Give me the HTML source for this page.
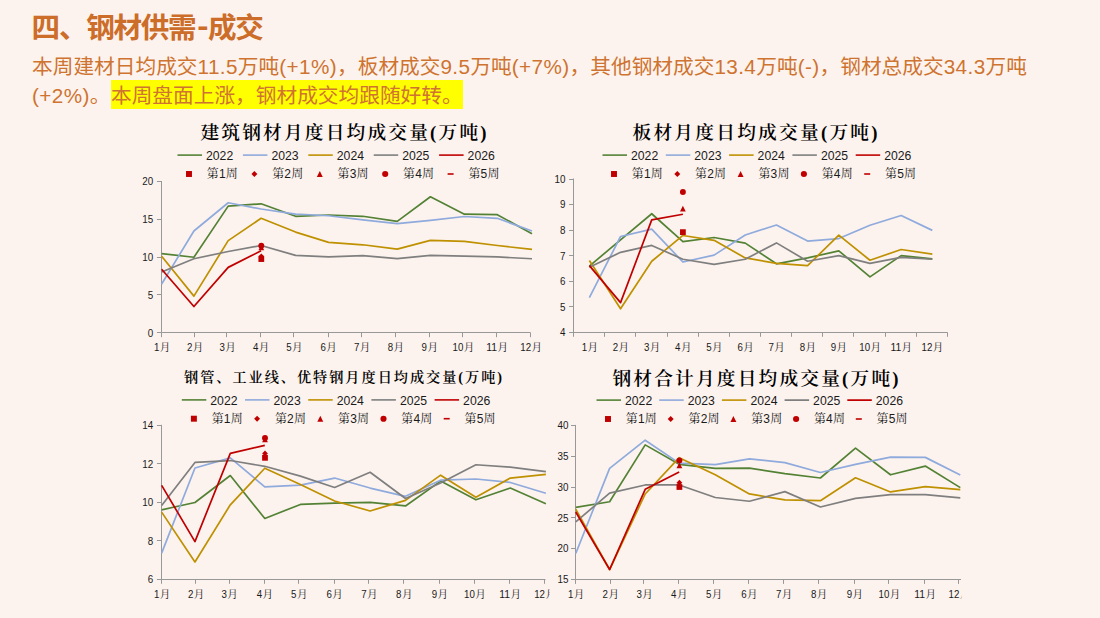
<!DOCTYPE html>
<html lang="zh-CN"><head><meta charset="utf-8"><title>四、钢材供需-成交</title>
<style>
html,body{margin:0;padding:0;}
body{width:1100px;height:618px;overflow:hidden;background:#FCF3EE;position:relative;font-family:'Liberation Sans','Noto Sans CJK SC',sans-serif;}
.h1{position:absolute;left:31.6px;top:7.6px;margin:0;font-size:28.6px;line-height:40px;font-weight:700;color:#CC6D29;white-space:nowrap;letter-spacing:-1.3px;}
.p{position:absolute;left:32px;top:51.75px;margin:0;font-size:20.7px;line-height:29.5px;color:#CF7330;white-space:nowrap;}
.p span.l{display:block;}
.hl{background:#FFFF00;padding:4.25px 0 1.5px 0;margin-left:0.5px;}
.n{letter-spacing:0.4px;}
.hy{display:inline-block;position:relative;top:-1.4px;transform:scaleX(1.18);margin:0 1.6px 0 2.9px;}
</style></head><body>
<h1 class="h1">四、钢材供需<span class="hy">-</span>成交</h1>
<p class="p"><span class="l" id="l1">本周建材日均成交<span class="n">11.5</span>万吨<span class="n">(+1%)</span>，板材成交<span class="n">9.5</span>万吨<span class="n">(+7%)</span>，其他钢材成交<span class="n">13.4</span>万吨<span class="n">(-)</span>，钢材总成交<span class="n">34.3</span>万吨</span><span class="l" id="l2"><span class="n">(+2%)</span>。<span class="hl" id="hl">本周盘面上涨，钢材成交均跟随好转。</span></span></p>
<svg width="1100" height="618" viewBox="0 0 1100 618" style="position:absolute;left:0;top:0">
<g>
<text x="343.5" y="139" font-family="'Liberation Serif','Noto Serif CJK SC',serif" font-weight="600" font-size="18.7" text-anchor="middle" textLength="286" lengthAdjust="spacing" fill="#000">建筑钢材月度日均成交量(万吨)</text>
<line x1="177.5" y1="155.1" x2="202" y2="155.1" stroke="#548235" stroke-width="1.6"/>
<text x="206" y="159.7" font-family="'Liberation Sans','Noto Sans CJK SC',sans-serif" font-size="13" textLength="27.2" lengthAdjust="spacingAndGlyphs" fill="#1a1a1a">2022</text>
<line x1="242.9" y1="155.1" x2="267.4" y2="155.1" stroke="#8FAADC" stroke-width="1.6"/>
<text x="271.4" y="159.7" font-family="'Liberation Sans','Noto Sans CJK SC',sans-serif" font-size="13" textLength="27.2" lengthAdjust="spacingAndGlyphs" fill="#1a1a1a">2023</text>
<line x1="308.3" y1="155.1" x2="332.8" y2="155.1" stroke="#BF9000" stroke-width="1.6"/>
<text x="336.8" y="159.7" font-family="'Liberation Sans','Noto Sans CJK SC',sans-serif" font-size="13" textLength="27.2" lengthAdjust="spacingAndGlyphs" fill="#1a1a1a">2024</text>
<line x1="373.7" y1="155.1" x2="398.2" y2="155.1" stroke="#7F7F7F" stroke-width="1.6"/>
<text x="402.2" y="159.7" font-family="'Liberation Sans','Noto Sans CJK SC',sans-serif" font-size="13" textLength="27.2" lengthAdjust="spacingAndGlyphs" fill="#1a1a1a">2025</text>
<line x1="439.1" y1="155.1" x2="463.6" y2="155.1" stroke="#C00000" stroke-width="1.6"/>
<text x="467.6" y="159.7" font-family="'Liberation Sans','Noto Sans CJK SC',sans-serif" font-size="13" textLength="27.2" lengthAdjust="spacingAndGlyphs" fill="#1a1a1a">2026</text>
<rect x="186.02" y="171.02" width="5.95" height="5.95" fill="#C00000"/>
<text x="206.8" y="178.3" font-family="'Liberation Sans','Noto Serif CJK SC',serif" font-size="12" textLength="31" lengthAdjust="spacing" fill="#1a1a1a">第1周</text>
<path d="M254.4 171.02 L257.38 174 L254.4 176.98 L251.42 174Z" fill="#C00000"/>
<text x="272.2" y="178.3" font-family="'Liberation Sans','Noto Serif CJK SC',serif" font-size="12" textLength="31" lengthAdjust="spacing" fill="#1a1a1a">第2周</text>
<path d="M319.8 171.02 L322.78 176.98 L316.82 176.98Z" fill="#C00000"/>
<text x="337.6" y="178.3" font-family="'Liberation Sans','Noto Serif CJK SC',serif" font-size="12" textLength="31" lengthAdjust="spacing" fill="#1a1a1a">第3周</text>
<circle cx="385.2" cy="174" r="3.07" fill="#C00000"/>
<text x="403" y="178.3" font-family="'Liberation Sans','Noto Serif CJK SC',serif" font-size="12" textLength="31" lengthAdjust="spacing" fill="#1a1a1a">第4周</text>
<rect x="447.6" y="173.2" width="6" height="1.6" fill="#C00000"/>
<text x="468.4" y="178.3" font-family="'Liberation Sans','Noto Serif CJK SC',serif" font-size="12" textLength="31" lengthAdjust="spacing" fill="#1a1a1a">第5周</text>
<path d="M161.5 181 V332.5 H530.5" fill="none" stroke="#989898" stroke-width="1"/>
<line x1="156.95" y1="332.5" x2="161.45" y2="332.5" stroke="#989898" stroke-width="1"/>
<text x="153.25" y="336.6" font-family="'Liberation Sans','Noto Sans CJK SC',sans-serif" font-size="11.3" text-anchor="end" fill="#1a1a1a" transform="translate(153.25 0) scale(0.87 1) translate(-153.25 0)">0</text>
<line x1="156.95" y1="294.5" x2="161.45" y2="294.5" stroke="#989898" stroke-width="1"/>
<text x="153.25" y="298.8" font-family="'Liberation Sans','Noto Sans CJK SC',sans-serif" font-size="11.3" text-anchor="end" fill="#1a1a1a" transform="translate(153.25 0) scale(0.87 1) translate(-153.25 0)">5</text>
<line x1="156.95" y1="257.5" x2="161.45" y2="257.5" stroke="#989898" stroke-width="1"/>
<text x="153.25" y="261" font-family="'Liberation Sans','Noto Sans CJK SC',sans-serif" font-size="11.3" text-anchor="end" fill="#1a1a1a" transform="translate(153.25 0) scale(0.87 1) translate(-153.25 0)">10</text>
<line x1="156.95" y1="219.5" x2="161.45" y2="219.5" stroke="#989898" stroke-width="1"/>
<text x="153.25" y="223.2" font-family="'Liberation Sans','Noto Sans CJK SC',sans-serif" font-size="11.3" text-anchor="end" fill="#1a1a1a" transform="translate(153.25 0) scale(0.87 1) translate(-153.25 0)">15</text>
<line x1="156.95" y1="181.5" x2="161.45" y2="181.5" stroke="#989898" stroke-width="1"/>
<text x="153.25" y="185.4" font-family="'Liberation Sans','Noto Sans CJK SC',sans-serif" font-size="11.3" text-anchor="end" fill="#1a1a1a" transform="translate(153.25 0) scale(0.87 1) translate(-153.25 0)">20</text>
<line x1="161.5" y1="332.7" x2="161.5" y2="337.2" stroke="#989898" stroke-width="1"/>
<line x1="194.5" y1="332.7" x2="194.5" y2="337.2" stroke="#989898" stroke-width="1"/>
<line x1="226.5" y1="332.7" x2="226.5" y2="337.2" stroke="#989898" stroke-width="1"/>
<line x1="260.5" y1="332.7" x2="260.5" y2="337.2" stroke="#989898" stroke-width="1"/>
<line x1="293.5" y1="332.7" x2="293.5" y2="337.2" stroke="#989898" stroke-width="1"/>
<line x1="328.5" y1="332.7" x2="328.5" y2="337.2" stroke="#989898" stroke-width="1"/>
<line x1="361.5" y1="332.7" x2="361.5" y2="337.2" stroke="#989898" stroke-width="1"/>
<line x1="395.5" y1="332.7" x2="395.5" y2="337.2" stroke="#989898" stroke-width="1"/>
<line x1="429.5" y1="332.7" x2="429.5" y2="337.2" stroke="#989898" stroke-width="1"/>
<line x1="462.5" y1="332.7" x2="462.5" y2="337.2" stroke="#989898" stroke-width="1"/>
<line x1="496.5" y1="332.7" x2="496.5" y2="337.2" stroke="#989898" stroke-width="1"/>
<line x1="530.5" y1="332.7" x2="530.5" y2="337.2" stroke="#989898" stroke-width="1"/>
<text x="153.95" y="351.2" fill="#1a1a1a"><tspan font-family="'Liberation Sans','Noto Sans CJK SC',sans-serif" font-size="11.4" textLength="5.4" lengthAdjust="spacingAndGlyphs">1</tspan><tspan x="159.75" font-family="'Liberation Serif','Noto Serif CJK SC',serif" font-size="10.6">月</tspan></text>
<text x="186.9" y="351.2" fill="#1a1a1a"><tspan font-family="'Liberation Sans','Noto Sans CJK SC',sans-serif" font-size="11.4" textLength="5.4" lengthAdjust="spacingAndGlyphs">2</tspan><tspan x="192.7" font-family="'Liberation Serif','Noto Serif CJK SC',serif" font-size="10.6">月</tspan></text>
<text x="219.4" y="351.2" fill="#1a1a1a"><tspan font-family="'Liberation Sans','Noto Sans CJK SC',sans-serif" font-size="11.4" textLength="5.4" lengthAdjust="spacingAndGlyphs">3</tspan><tspan x="225.2" font-family="'Liberation Serif','Noto Serif CJK SC',serif" font-size="10.6">月</tspan></text>
<text x="253" y="351.2" fill="#1a1a1a"><tspan font-family="'Liberation Sans','Noto Sans CJK SC',sans-serif" font-size="11.4" textLength="5.4" lengthAdjust="spacingAndGlyphs">4</tspan><tspan x="258.8" font-family="'Liberation Serif','Noto Serif CJK SC',serif" font-size="10.6">月</tspan></text>
<text x="286.3" y="351.2" fill="#1a1a1a"><tspan font-family="'Liberation Sans','Noto Sans CJK SC',sans-serif" font-size="11.4" textLength="5.4" lengthAdjust="spacingAndGlyphs">5</tspan><tspan x="292.1" font-family="'Liberation Serif','Noto Serif CJK SC',serif" font-size="10.6">月</tspan></text>
<text x="320.5" y="351.2" fill="#1a1a1a"><tspan font-family="'Liberation Sans','Noto Sans CJK SC',sans-serif" font-size="11.4" textLength="5.4" lengthAdjust="spacingAndGlyphs">6</tspan><tspan x="326.3" font-family="'Liberation Serif','Noto Serif CJK SC',serif" font-size="10.6">月</tspan></text>
<text x="353.95" y="351.2" fill="#1a1a1a"><tspan font-family="'Liberation Sans','Noto Sans CJK SC',sans-serif" font-size="11.4" textLength="5.4" lengthAdjust="spacingAndGlyphs">7</tspan><tspan x="359.75" font-family="'Liberation Serif','Noto Serif CJK SC',serif" font-size="10.6">月</tspan></text>
<text x="387.8" y="351.2" fill="#1a1a1a"><tspan font-family="'Liberation Sans','Noto Sans CJK SC',sans-serif" font-size="11.4" textLength="5.4" lengthAdjust="spacingAndGlyphs">8</tspan><tspan x="393.6" font-family="'Liberation Serif','Noto Serif CJK SC',serif" font-size="10.6">月</tspan></text>
<text x="421.6" y="351.2" fill="#1a1a1a"><tspan font-family="'Liberation Sans','Noto Sans CJK SC',sans-serif" font-size="11.4" textLength="5.4" lengthAdjust="spacingAndGlyphs">9</tspan><tspan x="427.4" font-family="'Liberation Serif','Noto Serif CJK SC',serif" font-size="10.6">月</tspan></text>
<text x="452.5" y="351.2" fill="#1a1a1a"><tspan font-family="'Liberation Sans','Noto Sans CJK SC',sans-serif" font-size="11.4" textLength="10.8" lengthAdjust="spacingAndGlyphs">10</tspan><tspan x="463.7" font-family="'Liberation Serif','Noto Serif CJK SC',serif" font-size="10.6">月</tspan></text>
<text x="486.2" y="351.2" fill="#1a1a1a"><tspan font-family="'Liberation Sans','Noto Sans CJK SC',sans-serif" font-size="11.4" textLength="10.8" lengthAdjust="spacingAndGlyphs">11</tspan><tspan x="497.4" font-family="'Liberation Serif','Noto Serif CJK SC',serif" font-size="10.6">月</tspan></text>
<text x="520.3" y="351.2" fill="#1a1a1a"><tspan font-family="'Liberation Sans','Noto Sans CJK SC',sans-serif" font-size="11.4" textLength="10.8" lengthAdjust="spacingAndGlyphs">12</tspan><tspan x="531.5" font-family="'Liberation Serif','Noto Serif CJK SC',serif" font-size="10.6">月</tspan></text>
<polyline points="161.65,253.62 193.9,257.25 228.2,206.15 261.1,203.8 295.6,216.28 328.6,214.99 362.85,216.28 397.2,221.42 430.4,196.77 464.4,214.16 497.3,214.69 532,233.66" fill="none" stroke="#548235" stroke-width="1.7" stroke-linejoin="round" stroke-linecap="butt"/>
<polyline points="161.65,283.94 193.9,231.02 228.2,202.74 261.1,209.02 295.6,214.16 328.6,215.75 362.85,219.9 397.2,223.53 430.4,220.43 464.4,216.5 497.3,218.32 532,231.02" fill="none" stroke="#8FAADC" stroke-width="1.7" stroke-linejoin="round" stroke-linecap="butt"/>
<polyline points="161.65,256.19 193.9,296.11 228.2,240.62 261.1,218.32 295.6,232.08 328.6,242.43 362.85,244.78 397.2,249.16 430.4,240.39 464.4,241.38 497.3,245.53 532,249.46" fill="none" stroke="#BF9000" stroke-width="1.7" stroke-linejoin="round" stroke-linecap="butt"/>
<polyline points="161.65,271.99 193.9,258.76 228.2,251.51 261.1,245.53 295.6,255.44 328.6,256.95 362.85,255.66 397.2,258.54 430.4,255.44 464.4,256.19 497.3,256.95 532,258.76" fill="none" stroke="#7F7F7F" stroke-width="1.7" stroke-linejoin="round" stroke-linecap="butt"/>
<polyline points="161.65,269.2 193.9,306.54 228.2,267.38 261.1,250.75" fill="none" stroke="#C00000" stroke-width="1.7" stroke-linejoin="round" stroke-linecap="butt"/>
<rect x="258.42" y="256.19" width="5.76" height="5.76" fill="#C00000"/>
<path d="M261.3 253.46 L264.18 256.34 L261.3 259.22 L258.42 256.34Z" fill="#C00000"/>
<path d="M261.3 244.39 L264.18 250.15 L258.42 250.15Z" fill="#C00000"/>
<circle cx="261.3" cy="245.76" r="2.97" fill="#C00000"/>
</g>
<g>
<text x="755" y="139" font-family="'Liberation Serif','Noto Serif CJK SC',serif" font-weight="600" font-size="18.7" text-anchor="middle" textLength="245" lengthAdjust="spacing" fill="#000">板材月度日均成交量(万吨)</text>
<line x1="602.5" y1="155.1" x2="627" y2="155.1" stroke="#548235" stroke-width="1.6"/>
<text x="631" y="159.7" font-family="'Liberation Sans','Noto Sans CJK SC',sans-serif" font-size="13" textLength="27.2" lengthAdjust="spacingAndGlyphs" fill="#1a1a1a">2022</text>
<line x1="665.8" y1="155.1" x2="690.3" y2="155.1" stroke="#8FAADC" stroke-width="1.6"/>
<text x="694.3" y="159.7" font-family="'Liberation Sans','Noto Sans CJK SC',sans-serif" font-size="13" textLength="27.2" lengthAdjust="spacingAndGlyphs" fill="#1a1a1a">2023</text>
<line x1="729.1" y1="155.1" x2="753.6" y2="155.1" stroke="#BF9000" stroke-width="1.6"/>
<text x="757.6" y="159.7" font-family="'Liberation Sans','Noto Sans CJK SC',sans-serif" font-size="13" textLength="27.2" lengthAdjust="spacingAndGlyphs" fill="#1a1a1a">2024</text>
<line x1="792.4" y1="155.1" x2="816.9" y2="155.1" stroke="#7F7F7F" stroke-width="1.6"/>
<text x="820.9" y="159.7" font-family="'Liberation Sans','Noto Sans CJK SC',sans-serif" font-size="13" textLength="27.2" lengthAdjust="spacingAndGlyphs" fill="#1a1a1a">2025</text>
<line x1="855.7" y1="155.1" x2="880.2" y2="155.1" stroke="#C00000" stroke-width="1.6"/>
<text x="884.2" y="159.7" font-family="'Liberation Sans','Noto Sans CJK SC',sans-serif" font-size="13" textLength="27.2" lengthAdjust="spacingAndGlyphs" fill="#1a1a1a">2026</text>
<rect x="611.02" y="171.02" width="5.95" height="5.95" fill="#C00000"/>
<text x="631.8" y="178.3" font-family="'Liberation Sans','Noto Serif CJK SC',serif" font-size="12" textLength="31" lengthAdjust="spacing" fill="#1a1a1a">第1周</text>
<path d="M677.3 171.02 L680.28 174 L677.3 176.98 L674.32 174Z" fill="#C00000"/>
<text x="695.1" y="178.3" font-family="'Liberation Sans','Noto Serif CJK SC',serif" font-size="12" textLength="31" lengthAdjust="spacing" fill="#1a1a1a">第2周</text>
<path d="M740.6 171.02 L743.58 176.98 L737.62 176.98Z" fill="#C00000"/>
<text x="758.4" y="178.3" font-family="'Liberation Sans','Noto Serif CJK SC',serif" font-size="12" textLength="31" lengthAdjust="spacing" fill="#1a1a1a">第3周</text>
<circle cx="803.9" cy="174" r="3.07" fill="#C00000"/>
<text x="821.7" y="178.3" font-family="'Liberation Sans','Noto Serif CJK SC',serif" font-size="12" textLength="31" lengthAdjust="spacing" fill="#1a1a1a">第4周</text>
<rect x="864.2" y="173.2" width="6" height="1.6" fill="#C00000"/>
<text x="885" y="178.3" font-family="'Liberation Sans','Noto Serif CJK SC',serif" font-size="12" textLength="31" lengthAdjust="spacing" fill="#1a1a1a">第5周</text>
<path d="M573.5 178.5 V332.5 H947.3" fill="none" stroke="#989898" stroke-width="1"/>
<line x1="569.1" y1="332.5" x2="573.6" y2="332.5" stroke="#989898" stroke-width="1"/>
<text x="565.4" y="336.2" font-family="'Liberation Sans','Noto Sans CJK SC',sans-serif" font-size="11.3" text-anchor="end" fill="#1a1a1a" transform="translate(565.4 0) scale(0.87 1) translate(-565.4 0)">4</text>
<line x1="569.1" y1="306.5" x2="573.6" y2="306.5" stroke="#989898" stroke-width="1"/>
<text x="565.4" y="310.65" font-family="'Liberation Sans','Noto Sans CJK SC',sans-serif" font-size="11.3" text-anchor="end" fill="#1a1a1a" transform="translate(565.4 0) scale(0.87 1) translate(-565.4 0)">5</text>
<line x1="569.1" y1="281.5" x2="573.6" y2="281.5" stroke="#989898" stroke-width="1"/>
<text x="565.4" y="285.1" font-family="'Liberation Sans','Noto Sans CJK SC',sans-serif" font-size="11.3" text-anchor="end" fill="#1a1a1a" transform="translate(565.4 0) scale(0.87 1) translate(-565.4 0)">6</text>
<line x1="569.1" y1="255.5" x2="573.6" y2="255.5" stroke="#989898" stroke-width="1"/>
<text x="565.4" y="259.55" font-family="'Liberation Sans','Noto Sans CJK SC',sans-serif" font-size="11.3" text-anchor="end" fill="#1a1a1a" transform="translate(565.4 0) scale(0.87 1) translate(-565.4 0)">7</text>
<line x1="569.1" y1="230.5" x2="573.6" y2="230.5" stroke="#989898" stroke-width="1"/>
<text x="565.4" y="234" font-family="'Liberation Sans','Noto Sans CJK SC',sans-serif" font-size="11.3" text-anchor="end" fill="#1a1a1a" transform="translate(565.4 0) scale(0.87 1) translate(-565.4 0)">8</text>
<line x1="569.1" y1="204.5" x2="573.6" y2="204.5" stroke="#989898" stroke-width="1"/>
<text x="565.4" y="208.45" font-family="'Liberation Sans','Noto Sans CJK SC',sans-serif" font-size="11.3" text-anchor="end" fill="#1a1a1a" transform="translate(565.4 0) scale(0.87 1) translate(-565.4 0)">9</text>
<line x1="569.1" y1="179.5" x2="573.6" y2="179.5" stroke="#989898" stroke-width="1"/>
<text x="565.4" y="182.9" font-family="'Liberation Sans','Noto Sans CJK SC',sans-serif" font-size="11.3" text-anchor="end" fill="#1a1a1a" transform="translate(565.4 0) scale(0.87 1) translate(-565.4 0)">10</text>
<line x1="573.5" y1="332.3" x2="573.5" y2="336.8" stroke="#989898" stroke-width="1"/>
<line x1="604.5" y1="332.3" x2="604.5" y2="336.8" stroke="#989898" stroke-width="1"/>
<line x1="635.5" y1="332.3" x2="635.5" y2="336.8" stroke="#989898" stroke-width="1"/>
<line x1="667.5" y1="332.3" x2="667.5" y2="336.8" stroke="#989898" stroke-width="1"/>
<line x1="698.5" y1="332.3" x2="698.5" y2="336.8" stroke="#989898" stroke-width="1"/>
<line x1="729.5" y1="332.3" x2="729.5" y2="336.8" stroke="#989898" stroke-width="1"/>
<line x1="760.5" y1="332.3" x2="760.5" y2="336.8" stroke="#989898" stroke-width="1"/>
<line x1="791.5" y1="332.3" x2="791.5" y2="336.8" stroke="#989898" stroke-width="1"/>
<line x1="822.5" y1="332.3" x2="822.5" y2="336.8" stroke="#989898" stroke-width="1"/>
<line x1="853.5" y1="332.3" x2="853.5" y2="336.8" stroke="#989898" stroke-width="1"/>
<line x1="885.5" y1="332.3" x2="885.5" y2="336.8" stroke="#989898" stroke-width="1"/>
<line x1="916.5" y1="332.3" x2="916.5" y2="336.8" stroke="#989898" stroke-width="1"/>
<line x1="947.5" y1="332.3" x2="947.5" y2="336.8" stroke="#989898" stroke-width="1"/>
<text x="581.67" y="351.2" fill="#1a1a1a"><tspan font-family="'Liberation Sans','Noto Sans CJK SC',sans-serif" font-size="11.4" textLength="5.4" lengthAdjust="spacingAndGlyphs">1</tspan><tspan x="587.47" font-family="'Liberation Serif','Noto Serif CJK SC',serif" font-size="10.6">月</tspan></text>
<text x="612.81" y="351.2" fill="#1a1a1a"><tspan font-family="'Liberation Sans','Noto Sans CJK SC',sans-serif" font-size="11.4" textLength="5.4" lengthAdjust="spacingAndGlyphs">2</tspan><tspan x="618.61" font-family="'Liberation Serif','Noto Serif CJK SC',serif" font-size="10.6">月</tspan></text>
<text x="643.95" y="351.2" fill="#1a1a1a"><tspan font-family="'Liberation Sans','Noto Sans CJK SC',sans-serif" font-size="11.4" textLength="5.4" lengthAdjust="spacingAndGlyphs">3</tspan><tspan x="649.75" font-family="'Liberation Serif','Noto Serif CJK SC',serif" font-size="10.6">月</tspan></text>
<text x="675.1" y="351.2" fill="#1a1a1a"><tspan font-family="'Liberation Sans','Noto Sans CJK SC',sans-serif" font-size="11.4" textLength="5.4" lengthAdjust="spacingAndGlyphs">4</tspan><tspan x="680.9" font-family="'Liberation Serif','Noto Serif CJK SC',serif" font-size="10.6">月</tspan></text>
<text x="706.24" y="351.2" fill="#1a1a1a"><tspan font-family="'Liberation Sans','Noto Sans CJK SC',sans-serif" font-size="11.4" textLength="5.4" lengthAdjust="spacingAndGlyphs">5</tspan><tspan x="712.04" font-family="'Liberation Serif','Noto Serif CJK SC',serif" font-size="10.6">月</tspan></text>
<text x="737.38" y="351.2" fill="#1a1a1a"><tspan font-family="'Liberation Sans','Noto Sans CJK SC',sans-serif" font-size="11.4" textLength="5.4" lengthAdjust="spacingAndGlyphs">6</tspan><tspan x="743.18" font-family="'Liberation Serif','Noto Serif CJK SC',serif" font-size="10.6">月</tspan></text>
<text x="768.52" y="351.2" fill="#1a1a1a"><tspan font-family="'Liberation Sans','Noto Sans CJK SC',sans-serif" font-size="11.4" textLength="5.4" lengthAdjust="spacingAndGlyphs">7</tspan><tspan x="774.32" font-family="'Liberation Serif','Noto Serif CJK SC',serif" font-size="10.6">月</tspan></text>
<text x="799.66" y="351.2" fill="#1a1a1a"><tspan font-family="'Liberation Sans','Noto Sans CJK SC',sans-serif" font-size="11.4" textLength="5.4" lengthAdjust="spacingAndGlyphs">8</tspan><tspan x="805.46" font-family="'Liberation Serif','Noto Serif CJK SC',serif" font-size="10.6">月</tspan></text>
<text x="830.8" y="351.2" fill="#1a1a1a"><tspan font-family="'Liberation Sans','Noto Sans CJK SC',sans-serif" font-size="11.4" textLength="5.4" lengthAdjust="spacingAndGlyphs">9</tspan><tspan x="836.6" font-family="'Liberation Serif','Noto Serif CJK SC',serif" font-size="10.6">月</tspan></text>
<text x="859.25" y="351.2" fill="#1a1a1a"><tspan font-family="'Liberation Sans','Noto Sans CJK SC',sans-serif" font-size="11.4" textLength="10.8" lengthAdjust="spacingAndGlyphs">10</tspan><tspan x="870.45" font-family="'Liberation Serif','Noto Serif CJK SC',serif" font-size="10.6">月</tspan></text>
<text x="890.39" y="351.2" fill="#1a1a1a"><tspan font-family="'Liberation Sans','Noto Sans CJK SC',sans-serif" font-size="11.4" textLength="10.8" lengthAdjust="spacingAndGlyphs">11</tspan><tspan x="901.59" font-family="'Liberation Serif','Noto Serif CJK SC',serif" font-size="10.6">月</tspan></text>
<text x="921.53" y="351.2" fill="#1a1a1a"><tspan font-family="'Liberation Sans','Noto Sans CJK SC',sans-serif" font-size="11.4" textLength="10.8" lengthAdjust="spacingAndGlyphs">12</tspan><tspan x="932.73" font-family="'Liberation Serif','Noto Serif CJK SC',serif" font-size="10.6">月</tspan></text>
<polyline points="589.37,266.13 620.55,239.81 651.73,213.75 682.9,241.6 714.08,237.51 745.26,243.13 776.44,263.83 807.62,257.95 838.8,250.8 869.97,276.86 901.15,255.65 932.33,258.97" fill="none" stroke="#548235" stroke-width="1.7" stroke-linejoin="round" stroke-linecap="butt"/>
<polyline points="589.37,297.55 620.55,236.49 651.73,229.08 682.9,262.04 714.08,255.14 745.26,234.95 776.44,224.99 807.62,241.09 838.8,238.53 869.97,225.25 901.15,215.54 932.33,230.36" fill="none" stroke="#8FAADC" stroke-width="1.7" stroke-linejoin="round" stroke-linecap="butt"/>
<polyline points="589.37,260.5 620.55,308.79 651.73,261.27 682.9,235.47 714.08,240.32 745.26,257.95 776.44,263.31 807.62,265.61 838.8,235.21 869.97,260.25 901.15,249.52 932.33,254.12" fill="none" stroke="#BF9000" stroke-width="1.7" stroke-linejoin="round" stroke-linecap="butt"/>
<polyline points="589.37,267.15 620.55,252.33 651.73,245.43 682.9,259.23 714.08,264.34 745.26,259.23 776.44,242.88 807.62,261.27 838.8,255.65 869.97,263.31 901.15,257.44 932.33,259.23" fill="none" stroke="#7F7F7F" stroke-width="1.7" stroke-linejoin="round" stroke-linecap="butt"/>
<polyline points="589.37,265.61 620.55,302.66 651.73,219.88 682.9,214.26" fill="none" stroke="#C00000" stroke-width="1.7" stroke-linejoin="round" stroke-linecap="butt"/>
<rect x="680.02" y="229.26" width="5.76" height="5.76" fill="#C00000"/>
<path d="M682.9 205.76 L685.78 211.52 L680.02 211.52Z" fill="#C00000"/>
<circle cx="682.9" cy="192.03" r="2.97" fill="#C00000"/>
</g>
<clipPath id="cp2"><rect x="0" y="0" width="549.8" height="618"/></clipPath>
<g clip-path="url(#cp2)">
<text x="343" y="381.6" font-family="'Liberation Serif','Noto Serif CJK SC',serif" font-weight="600" font-size="14.2" text-anchor="middle" textLength="318" lengthAdjust="spacing" fill="#000">钢管、工业线、优特钢月度日均成交量(万吨)</text>
<line x1="181.8" y1="399.9" x2="206.3" y2="399.9" stroke="#548235" stroke-width="1.6"/>
<text x="210.3" y="404.5" font-family="'Liberation Sans','Noto Sans CJK SC',sans-serif" font-size="13" textLength="27.2" lengthAdjust="spacingAndGlyphs" fill="#1a1a1a">2022</text>
<line x1="245" y1="399.9" x2="269.5" y2="399.9" stroke="#8FAADC" stroke-width="1.6"/>
<text x="273.5" y="404.5" font-family="'Liberation Sans','Noto Sans CJK SC',sans-serif" font-size="13" textLength="27.2" lengthAdjust="spacingAndGlyphs" fill="#1a1a1a">2023</text>
<line x1="308.2" y1="399.9" x2="332.7" y2="399.9" stroke="#BF9000" stroke-width="1.6"/>
<text x="336.7" y="404.5" font-family="'Liberation Sans','Noto Sans CJK SC',sans-serif" font-size="13" textLength="27.2" lengthAdjust="spacingAndGlyphs" fill="#1a1a1a">2024</text>
<line x1="371.4" y1="399.9" x2="395.9" y2="399.9" stroke="#7F7F7F" stroke-width="1.6"/>
<text x="399.9" y="404.5" font-family="'Liberation Sans','Noto Sans CJK SC',sans-serif" font-size="13" textLength="27.2" lengthAdjust="spacingAndGlyphs" fill="#1a1a1a">2025</text>
<line x1="434.6" y1="399.9" x2="459.1" y2="399.9" stroke="#C00000" stroke-width="1.6"/>
<text x="463.1" y="404.5" font-family="'Liberation Sans','Noto Sans CJK SC',sans-serif" font-size="13" textLength="27.2" lengthAdjust="spacingAndGlyphs" fill="#1a1a1a">2026</text>
<rect x="190.92" y="415.72" width="5.95" height="5.95" fill="#C00000"/>
<text x="211.7" y="423" font-family="'Liberation Sans','Noto Serif CJK SC',serif" font-size="12" textLength="31" lengthAdjust="spacing" fill="#1a1a1a">第1周</text>
<path d="M257.1 415.72 L260.08 418.7 L257.1 421.68 L254.12 418.7Z" fill="#C00000"/>
<text x="274.9" y="423" font-family="'Liberation Sans','Noto Serif CJK SC',serif" font-size="12" textLength="31" lengthAdjust="spacing" fill="#1a1a1a">第2周</text>
<path d="M320.3 415.72 L323.28 421.68 L317.32 421.68Z" fill="#C00000"/>
<text x="338.1" y="423" font-family="'Liberation Sans','Noto Serif CJK SC',serif" font-size="12" textLength="31" lengthAdjust="spacing" fill="#1a1a1a">第3周</text>
<circle cx="383.5" cy="418.7" r="3.07" fill="#C00000"/>
<text x="401.3" y="423" font-family="'Liberation Sans','Noto Serif CJK SC',serif" font-size="12" textLength="31" lengthAdjust="spacing" fill="#1a1a1a">第4周</text>
<rect x="443.7" y="417.9" width="6" height="1.6" fill="#C00000"/>
<text x="464.5" y="423" font-family="'Liberation Sans','Noto Serif CJK SC',serif" font-size="12" textLength="31" lengthAdjust="spacing" fill="#1a1a1a">第5周</text>
<path d="M161.5 424.8 V579.5 H545.5" fill="none" stroke="#989898" stroke-width="1"/>
<line x1="156.95" y1="579.5" x2="161.45" y2="579.5" stroke="#989898" stroke-width="1"/>
<text x="153.25" y="583.2" font-family="'Liberation Sans','Noto Sans CJK SC',sans-serif" font-size="11.3" text-anchor="end" fill="#1a1a1a" transform="translate(153.25 0) scale(0.87 1) translate(-153.25 0)">6</text>
<line x1="156.95" y1="540.5" x2="161.45" y2="540.5" stroke="#989898" stroke-width="1"/>
<text x="153.25" y="544.7" font-family="'Liberation Sans','Noto Sans CJK SC',sans-serif" font-size="11.3" text-anchor="end" fill="#1a1a1a" transform="translate(153.25 0) scale(0.87 1) translate(-153.25 0)">8</text>
<line x1="156.95" y1="502.5" x2="161.45" y2="502.5" stroke="#989898" stroke-width="1"/>
<text x="153.25" y="506.2" font-family="'Liberation Sans','Noto Sans CJK SC',sans-serif" font-size="11.3" text-anchor="end" fill="#1a1a1a" transform="translate(153.25 0) scale(0.87 1) translate(-153.25 0)">10</text>
<line x1="156.95" y1="463.5" x2="161.45" y2="463.5" stroke="#989898" stroke-width="1"/>
<text x="153.25" y="467.7" font-family="'Liberation Sans','Noto Sans CJK SC',sans-serif" font-size="11.3" text-anchor="end" fill="#1a1a1a" transform="translate(153.25 0) scale(0.87 1) translate(-153.25 0)">12</text>
<line x1="156.95" y1="425.5" x2="161.45" y2="425.5" stroke="#989898" stroke-width="1"/>
<text x="153.25" y="429.2" font-family="'Liberation Sans','Noto Sans CJK SC',sans-serif" font-size="11.3" text-anchor="end" fill="#1a1a1a" transform="translate(153.25 0) scale(0.87 1) translate(-153.25 0)">14</text>
<line x1="161.5" y1="579.3" x2="161.5" y2="583.8" stroke="#989898" stroke-width="1"/>
<line x1="195.5" y1="579.3" x2="195.5" y2="583.8" stroke="#989898" stroke-width="1"/>
<line x1="229.5" y1="579.3" x2="229.5" y2="583.8" stroke="#989898" stroke-width="1"/>
<line x1="264.5" y1="579.3" x2="264.5" y2="583.8" stroke="#989898" stroke-width="1"/>
<line x1="298.5" y1="579.3" x2="298.5" y2="583.8" stroke="#989898" stroke-width="1"/>
<line x1="334.5" y1="579.3" x2="334.5" y2="583.8" stroke="#989898" stroke-width="1"/>
<line x1="368.5" y1="579.3" x2="368.5" y2="583.8" stroke="#989898" stroke-width="1"/>
<line x1="403.5" y1="579.3" x2="403.5" y2="583.8" stroke="#989898" stroke-width="1"/>
<line x1="439.5" y1="579.3" x2="439.5" y2="583.8" stroke="#989898" stroke-width="1"/>
<line x1="474.5" y1="579.3" x2="474.5" y2="583.8" stroke="#989898" stroke-width="1"/>
<line x1="509.5" y1="579.3" x2="509.5" y2="583.8" stroke="#989898" stroke-width="1"/>
<line x1="544.5" y1="579.3" x2="544.5" y2="583.8" stroke="#989898" stroke-width="1"/>
<text x="153.95" y="598.2" fill="#1a1a1a"><tspan font-family="'Liberation Sans','Noto Sans CJK SC',sans-serif" font-size="11.4" textLength="5.4" lengthAdjust="spacingAndGlyphs">1</tspan><tspan x="159.75" font-family="'Liberation Serif','Noto Serif CJK SC',serif" font-size="10.6">月</tspan></text>
<text x="187.95" y="598.2" fill="#1a1a1a"><tspan font-family="'Liberation Sans','Noto Sans CJK SC',sans-serif" font-size="11.4" textLength="5.4" lengthAdjust="spacingAndGlyphs">2</tspan><tspan x="193.75" font-family="'Liberation Serif','Noto Serif CJK SC',serif" font-size="10.6">月</tspan></text>
<text x="221.5" y="598.2" fill="#1a1a1a"><tspan font-family="'Liberation Sans','Noto Sans CJK SC',sans-serif" font-size="11.4" textLength="5.4" lengthAdjust="spacingAndGlyphs">3</tspan><tspan x="227.3" font-family="'Liberation Serif','Noto Serif CJK SC',serif" font-size="10.6">月</tspan></text>
<text x="256.7" y="598.2" fill="#1a1a1a"><tspan font-family="'Liberation Sans','Noto Sans CJK SC',sans-serif" font-size="11.4" textLength="5.4" lengthAdjust="spacingAndGlyphs">4</tspan><tspan x="262.5" font-family="'Liberation Serif','Noto Serif CJK SC',serif" font-size="10.6">月</tspan></text>
<text x="291.1" y="598.2" fill="#1a1a1a"><tspan font-family="'Liberation Sans','Noto Sans CJK SC',sans-serif" font-size="11.4" textLength="5.4" lengthAdjust="spacingAndGlyphs">5</tspan><tspan x="296.9" font-family="'Liberation Serif','Noto Serif CJK SC',serif" font-size="10.6">月</tspan></text>
<text x="326.5" y="598.2" fill="#1a1a1a"><tspan font-family="'Liberation Sans','Noto Sans CJK SC',sans-serif" font-size="11.4" textLength="5.4" lengthAdjust="spacingAndGlyphs">6</tspan><tspan x="332.3" font-family="'Liberation Serif','Noto Serif CJK SC',serif" font-size="10.6">月</tspan></text>
<text x="361.2" y="598.2" fill="#1a1a1a"><tspan font-family="'Liberation Sans','Noto Sans CJK SC',sans-serif" font-size="11.4" textLength="5.4" lengthAdjust="spacingAndGlyphs">7</tspan><tspan x="367" font-family="'Liberation Serif','Noto Serif CJK SC',serif" font-size="10.6">月</tspan></text>
<text x="396.1" y="598.2" fill="#1a1a1a"><tspan font-family="'Liberation Sans','Noto Sans CJK SC',sans-serif" font-size="11.4" textLength="5.4" lengthAdjust="spacingAndGlyphs">8</tspan><tspan x="401.9" font-family="'Liberation Serif','Noto Serif CJK SC',serif" font-size="10.6">月</tspan></text>
<text x="431.8" y="598.2" fill="#1a1a1a"><tspan font-family="'Liberation Sans','Noto Sans CJK SC',sans-serif" font-size="11.4" textLength="5.4" lengthAdjust="spacingAndGlyphs">9</tspan><tspan x="437.6" font-family="'Liberation Serif','Noto Serif CJK SC',serif" font-size="10.6">月</tspan></text>
<text x="464" y="598.2" fill="#1a1a1a"><tspan font-family="'Liberation Sans','Noto Sans CJK SC',sans-serif" font-size="11.4" textLength="10.8" lengthAdjust="spacingAndGlyphs">10</tspan><tspan x="475.2" font-family="'Liberation Serif','Noto Serif CJK SC',serif" font-size="10.6">月</tspan></text>
<text x="499.2" y="598.2" fill="#1a1a1a"><tspan font-family="'Liberation Sans','Noto Sans CJK SC',sans-serif" font-size="11.4" textLength="10.8" lengthAdjust="spacingAndGlyphs">11</tspan><tspan x="510.4" font-family="'Liberation Serif','Noto Serif CJK SC',serif" font-size="10.6">月</tspan></text>
<text x="534.2" y="598.2" fill="#1a1a1a"><tspan font-family="'Liberation Sans','Noto Sans CJK SC',sans-serif" font-size="11.4" textLength="10.8" lengthAdjust="spacingAndGlyphs">12</tspan><tspan x="545.4" font-family="'Liberation Serif','Noto Serif CJK SC',serif" font-size="10.6">月</tspan></text>
<polyline points="161.65,509.81 194.95,502.49 230.3,475.54 264.8,518.47 300.4,504.42 334.6,503.07 370.1,502.3 405.5,505.96 440.6,481.12 475.9,499.8 510.3,488.05 545.9,503.84" fill="none" stroke="#548235" stroke-width="1.7" stroke-linejoin="round" stroke-linecap="butt"/>
<polyline points="161.65,553.12 194.95,468.04 230.3,457.83 264.8,486.9 300.4,485.17 334.6,478.05 370.1,488.05 405.5,496.33 440.6,480.16 475.9,479.01 510.3,482.47 545.9,493.25" fill="none" stroke="#8FAADC" stroke-width="1.7" stroke-linejoin="round" stroke-linecap="butt"/>
<polyline points="161.65,512.12 194.95,561.97 230.3,504.8 264.8,468.23 300.4,484.59 334.6,500.95 370.1,510.96 405.5,500.38 440.6,475.16 475.9,497.29 510.3,478.05 545.9,474.39" fill="none" stroke="#BF9000" stroke-width="1.7" stroke-linejoin="round" stroke-linecap="butt"/>
<polyline points="161.65,505.57 194.95,462.45 230.3,460.53 264.8,466.3 300.4,476.12 334.6,487.48 370.1,472.27 405.5,498.45 440.6,483.05 475.9,464.76 510.3,467.07 545.9,471.69" fill="none" stroke="#7F7F7F" stroke-width="1.7" stroke-linejoin="round" stroke-linecap="butt"/>
<polyline points="161.65,485.36 194.95,541.57 230.3,453.41 264.8,445.32" fill="none" stroke="#C00000" stroke-width="1.7" stroke-linejoin="round" stroke-linecap="butt"/>
<rect x="262.12" y="454.95" width="5.76" height="5.76" fill="#C00000"/>
<path d="M265 450.53 L267.88 453.41 L265 456.29 L262.12 453.41Z" fill="#C00000"/>
<path d="M265 436.47 L267.88 442.23 L262.12 442.23Z" fill="#C00000"/>
<circle cx="265" cy="438" r="2.97" fill="#C00000"/>
</g>
<clipPath id="cp3"><rect x="0" y="0" width="961.6" height="618"/></clipPath>
<g clip-path="url(#cp3)">
<text x="755.5" y="385" font-family="'Liberation Serif','Noto Serif CJK SC',serif" font-weight="600" font-size="18.7" text-anchor="middle" textLength="286" lengthAdjust="spacing" fill="#000">钢材合计月度日均成交量(万吨)</text>
<line x1="596.5" y1="400.1" x2="621" y2="400.1" stroke="#548235" stroke-width="1.6"/>
<text x="625" y="404.7" font-family="'Liberation Sans','Noto Sans CJK SC',sans-serif" font-size="13" textLength="27.2" lengthAdjust="spacingAndGlyphs" fill="#1a1a1a">2022</text>
<line x1="659.2" y1="400.1" x2="683.7" y2="400.1" stroke="#8FAADC" stroke-width="1.6"/>
<text x="687.7" y="404.7" font-family="'Liberation Sans','Noto Sans CJK SC',sans-serif" font-size="13" textLength="27.2" lengthAdjust="spacingAndGlyphs" fill="#1a1a1a">2023</text>
<line x1="721.9" y1="400.1" x2="746.4" y2="400.1" stroke="#BF9000" stroke-width="1.6"/>
<text x="750.4" y="404.7" font-family="'Liberation Sans','Noto Sans CJK SC',sans-serif" font-size="13" textLength="27.2" lengthAdjust="spacingAndGlyphs" fill="#1a1a1a">2024</text>
<line x1="784.6" y1="400.1" x2="809.1" y2="400.1" stroke="#7F7F7F" stroke-width="1.6"/>
<text x="813.1" y="404.7" font-family="'Liberation Sans','Noto Sans CJK SC',sans-serif" font-size="13" textLength="27.2" lengthAdjust="spacingAndGlyphs" fill="#1a1a1a">2025</text>
<line x1="847.3" y1="400.1" x2="871.8" y2="400.1" stroke="#C00000" stroke-width="1.6"/>
<text x="875.8" y="404.7" font-family="'Liberation Sans','Noto Sans CJK SC',sans-serif" font-size="13" textLength="27.2" lengthAdjust="spacingAndGlyphs" fill="#1a1a1a">2026</text>
<rect x="605.02" y="416.02" width="5.95" height="5.95" fill="#C00000"/>
<text x="625.8" y="423.3" font-family="'Liberation Sans','Noto Serif CJK SC',serif" font-size="12" textLength="31" lengthAdjust="spacing" fill="#1a1a1a">第1周</text>
<path d="M670.7 416.02 L673.68 419 L670.7 421.98 L667.72 419Z" fill="#C00000"/>
<text x="688.5" y="423.3" font-family="'Liberation Sans','Noto Serif CJK SC',serif" font-size="12" textLength="31" lengthAdjust="spacing" fill="#1a1a1a">第2周</text>
<path d="M733.4 416.02 L736.38 421.98 L730.42 421.98Z" fill="#C00000"/>
<text x="751.2" y="423.3" font-family="'Liberation Sans','Noto Serif CJK SC',serif" font-size="12" textLength="31" lengthAdjust="spacing" fill="#1a1a1a">第3周</text>
<circle cx="796.1" cy="419" r="3.07" fill="#C00000"/>
<text x="813.9" y="423.3" font-family="'Liberation Sans','Noto Serif CJK SC',serif" font-size="12" textLength="31" lengthAdjust="spacing" fill="#1a1a1a">第4周</text>
<rect x="855.8" y="418.2" width="6" height="1.6" fill="#C00000"/>
<text x="876.6" y="423.3" font-family="'Liberation Sans','Noto Serif CJK SC',serif" font-size="12" textLength="31" lengthAdjust="spacing" fill="#1a1a1a">第5周</text>
<path d="M575.5 424.9 V579.5 H961" fill="none" stroke="#989898" stroke-width="1"/>
<line x1="571.05" y1="579.5" x2="575.55" y2="579.5" stroke="#989898" stroke-width="1"/>
<text x="568.55" y="583.3" font-family="'Liberation Sans','Noto Sans CJK SC',sans-serif" font-size="11.3" text-anchor="end" fill="#1a1a1a" transform="translate(568.55 0) scale(0.87 1) translate(-568.55 0)">15</text>
<line x1="571.05" y1="548.5" x2="575.55" y2="548.5" stroke="#989898" stroke-width="1"/>
<text x="568.55" y="552.5" font-family="'Liberation Sans','Noto Sans CJK SC',sans-serif" font-size="11.3" text-anchor="end" fill="#1a1a1a" transform="translate(568.55 0) scale(0.87 1) translate(-568.55 0)">20</text>
<line x1="571.05" y1="517.5" x2="575.55" y2="517.5" stroke="#989898" stroke-width="1"/>
<text x="568.55" y="521.7" font-family="'Liberation Sans','Noto Sans CJK SC',sans-serif" font-size="11.3" text-anchor="end" fill="#1a1a1a" transform="translate(568.55 0) scale(0.87 1) translate(-568.55 0)">25</text>
<line x1="571.05" y1="487.5" x2="575.55" y2="487.5" stroke="#989898" stroke-width="1"/>
<text x="568.55" y="490.9" font-family="'Liberation Sans','Noto Sans CJK SC',sans-serif" font-size="11.3" text-anchor="end" fill="#1a1a1a" transform="translate(568.55 0) scale(0.87 1) translate(-568.55 0)">30</text>
<line x1="571.05" y1="456.5" x2="575.55" y2="456.5" stroke="#989898" stroke-width="1"/>
<text x="568.55" y="460.1" font-family="'Liberation Sans','Noto Sans CJK SC',sans-serif" font-size="11.3" text-anchor="end" fill="#1a1a1a" transform="translate(568.55 0) scale(0.87 1) translate(-568.55 0)">35</text>
<line x1="571.05" y1="425.5" x2="575.55" y2="425.5" stroke="#989898" stroke-width="1"/>
<text x="568.55" y="429.3" font-family="'Liberation Sans','Noto Sans CJK SC',sans-serif" font-size="11.3" text-anchor="end" fill="#1a1a1a" transform="translate(568.55 0) scale(0.87 1) translate(-568.55 0)">40</text>
<line x1="575.5" y1="579.4" x2="575.5" y2="583.9" stroke="#989898" stroke-width="1"/>
<line x1="610.5" y1="579.4" x2="610.5" y2="583.9" stroke="#989898" stroke-width="1"/>
<line x1="643.5" y1="579.4" x2="643.5" y2="583.9" stroke="#989898" stroke-width="1"/>
<line x1="678.5" y1="579.4" x2="678.5" y2="583.9" stroke="#989898" stroke-width="1"/>
<line x1="713.5" y1="579.4" x2="713.5" y2="583.9" stroke="#989898" stroke-width="1"/>
<line x1="748.5" y1="579.4" x2="748.5" y2="583.9" stroke="#989898" stroke-width="1"/>
<line x1="783.5" y1="579.4" x2="783.5" y2="583.9" stroke="#989898" stroke-width="1"/>
<line x1="818.5" y1="579.4" x2="818.5" y2="583.9" stroke="#989898" stroke-width="1"/>
<line x1="854.5" y1="579.4" x2="854.5" y2="583.9" stroke="#989898" stroke-width="1"/>
<line x1="888.5" y1="579.4" x2="888.5" y2="583.9" stroke="#989898" stroke-width="1"/>
<line x1="924.5" y1="579.4" x2="924.5" y2="583.9" stroke="#989898" stroke-width="1"/>
<line x1="958.5" y1="579.4" x2="958.5" y2="583.9" stroke="#989898" stroke-width="1"/>
<text x="568.05" y="598.2" fill="#1a1a1a"><tspan font-family="'Liberation Sans','Noto Sans CJK SC',sans-serif" font-size="11.4" textLength="5.4" lengthAdjust="spacingAndGlyphs">1</tspan><tspan x="573.85" font-family="'Liberation Serif','Noto Serif CJK SC',serif" font-size="10.6">月</tspan></text>
<text x="602.6" y="598.2" fill="#1a1a1a"><tspan font-family="'Liberation Sans','Noto Sans CJK SC',sans-serif" font-size="11.4" textLength="5.4" lengthAdjust="spacingAndGlyphs">2</tspan><tspan x="608.4" font-family="'Liberation Serif','Noto Serif CJK SC',serif" font-size="10.6">月</tspan></text>
<text x="636.4" y="598.2" fill="#1a1a1a"><tspan font-family="'Liberation Sans','Noto Sans CJK SC',sans-serif" font-size="11.4" textLength="5.4" lengthAdjust="spacingAndGlyphs">3</tspan><tspan x="642.2" font-family="'Liberation Serif','Noto Serif CJK SC',serif" font-size="10.6">月</tspan></text>
<text x="671.1" y="598.2" fill="#1a1a1a"><tspan font-family="'Liberation Sans','Noto Sans CJK SC',sans-serif" font-size="11.4" textLength="5.4" lengthAdjust="spacingAndGlyphs">4</tspan><tspan x="676.9" font-family="'Liberation Serif','Noto Serif CJK SC',serif" font-size="10.6">月</tspan></text>
<text x="706" y="598.2" fill="#1a1a1a"><tspan font-family="'Liberation Sans','Noto Sans CJK SC',sans-serif" font-size="11.4" textLength="5.4" lengthAdjust="spacingAndGlyphs">5</tspan><tspan x="711.8" font-family="'Liberation Serif','Noto Serif CJK SC',serif" font-size="10.6">月</tspan></text>
<text x="741.3" y="598.2" fill="#1a1a1a"><tspan font-family="'Liberation Sans','Noto Sans CJK SC',sans-serif" font-size="11.4" textLength="5.4" lengthAdjust="spacingAndGlyphs">6</tspan><tspan x="747.1" font-family="'Liberation Serif','Noto Serif CJK SC',serif" font-size="10.6">月</tspan></text>
<text x="776" y="598.2" fill="#1a1a1a"><tspan font-family="'Liberation Sans','Noto Sans CJK SC',sans-serif" font-size="11.4" textLength="5.4" lengthAdjust="spacingAndGlyphs">7</tspan><tspan x="781.8" font-family="'Liberation Serif','Noto Serif CJK SC',serif" font-size="10.6">月</tspan></text>
<text x="811" y="598.2" fill="#1a1a1a"><tspan font-family="'Liberation Sans','Noto Sans CJK SC',sans-serif" font-size="11.4" textLength="5.4" lengthAdjust="spacingAndGlyphs">8</tspan><tspan x="816.8" font-family="'Liberation Serif','Noto Serif CJK SC',serif" font-size="10.6">月</tspan></text>
<text x="846.7" y="598.2" fill="#1a1a1a"><tspan font-family="'Liberation Sans','Noto Sans CJK SC',sans-serif" font-size="11.4" textLength="5.4" lengthAdjust="spacingAndGlyphs">9</tspan><tspan x="852.5" font-family="'Liberation Serif','Noto Serif CJK SC',serif" font-size="10.6">月</tspan></text>
<text x="878.6" y="598.2" fill="#1a1a1a"><tspan font-family="'Liberation Sans','Noto Sans CJK SC',sans-serif" font-size="11.4" textLength="10.8" lengthAdjust="spacingAndGlyphs">10</tspan><tspan x="889.8" font-family="'Liberation Serif','Noto Serif CJK SC',serif" font-size="10.6">月</tspan></text>
<text x="914.2" y="598.2" fill="#1a1a1a"><tspan font-family="'Liberation Sans','Noto Sans CJK SC',sans-serif" font-size="11.4" textLength="10.8" lengthAdjust="spacingAndGlyphs">11</tspan><tspan x="925.4" font-family="'Liberation Serif','Noto Serif CJK SC',serif" font-size="10.6">月</tspan></text>
<text x="948.6" y="598.2" fill="#1a1a1a"><tspan font-family="'Liberation Sans','Noto Sans CJK SC',sans-serif" font-size="11.4" textLength="10.8" lengthAdjust="spacingAndGlyphs">12</tspan><tspan x="959.8" font-family="'Liberation Serif','Noto Serif CJK SC',serif" font-size="10.6">月</tspan></text>
<polyline points="575.75,507.33 609.6,501.78 645.2,444.87 679.2,464.33 715.3,468.4 749.4,468.09 784.9,473.63 820.4,478.01 855.5,448.07 890.5,474.8 925.3,466.06 960.3,487.62" fill="none" stroke="#548235" stroke-width="1.7" stroke-linejoin="round" stroke-linecap="butt"/>
<polyline points="575.75,553.53 609.6,468.4 645.2,440.18 679.2,463.16 715.3,464.64 749.4,458.79 784.9,462.61 820.4,472.46 855.5,464.33 890.5,457.06 925.3,457.37 960.3,475.11" fill="none" stroke="#8FAADC" stroke-width="1.7" stroke-linejoin="round" stroke-linecap="butt"/>
<polyline points="575.75,509.18 609.6,569.54 645.2,493.96 679.2,457.68 715.3,474.8 749.4,493.96 784.9,499.81 820.4,500.68 855.5,477.76 890.5,491.93 925.3,486.69 960.3,489.59" fill="none" stroke="#BF9000" stroke-width="1.7" stroke-linejoin="round" stroke-linecap="butt"/>
<polyline points="575.75,521.87 609.6,493.16 645.2,484.97 679.2,484.97 715.3,497.47 749.4,501.23 784.9,491.62 820.4,507.02 855.5,498.33 890.5,494.58 925.3,494.58 960.3,497.78" fill="none" stroke="#7F7F7F" stroke-width="1.7" stroke-linejoin="round" stroke-linecap="butt"/>
<polyline points="575.75,512.01 609.6,569.54 645.2,489.34 679.2,471.91" fill="none" stroke="#C00000" stroke-width="1.7" stroke-linejoin="round" stroke-linecap="butt"/>
<rect x="676.52" y="484.12" width="5.76" height="5.76" fill="#C00000"/>
<path d="M679.4 479.81 L682.28 482.69 L679.4 485.57 L676.52 482.69Z" fill="#C00000"/>
<path d="M679.4 462.44 L682.28 468.2 L676.52 468.2Z" fill="#C00000"/>
<circle cx="679.4" cy="460.45" r="2.97" fill="#C00000"/>
</g>
</svg>
</body></html>
